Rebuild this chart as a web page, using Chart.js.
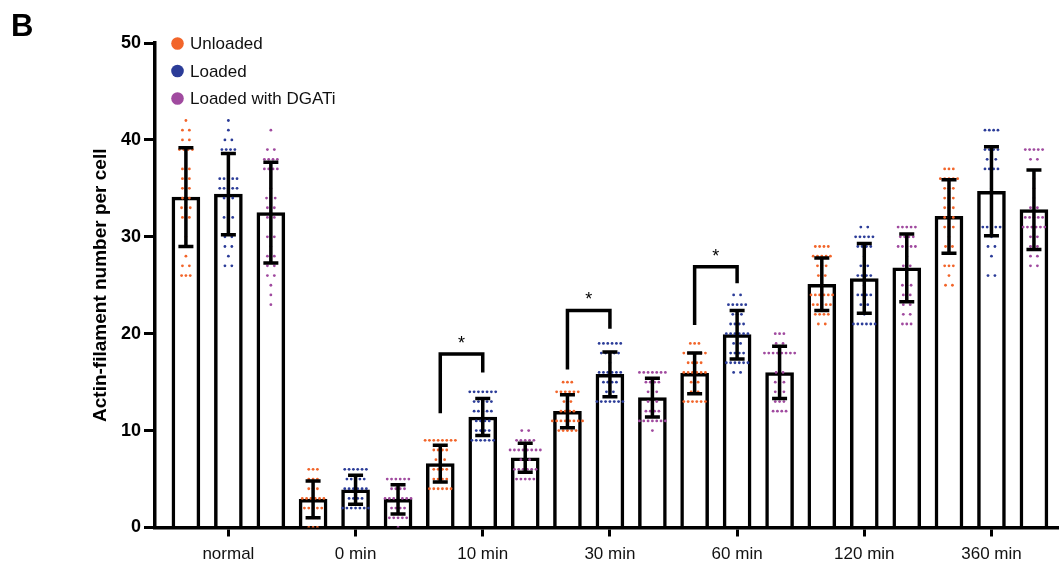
<!DOCTYPE html>
<html lang="en">
<head>
<meta charset="UTF-8">
<title>Actin-filament number per cell</title>
<script src="https://cdn.jsdelivr.net/npm/chart.js"></script>
<style>
  body { margin: 0; background: #fff; }
  #wrap { width: 1059px; height: 568px; position: relative; }
</style>
</head>
<body>
<div id="wrap"><canvas id="chart"></canvas></div>
<script>
const categories = ['normal', '0 min', '10 min', '30 min', '60 min', '120 min', '360 min'];
const seriesNames = ['Unloaded', 'Loaded', 'Loaded with DGATi'];
const seriesColors = ['#f2652a', '#2b3c98', '#a04a9f'];

// bar heights (mean) and error bars (SD)
const meanUnloaded = [34.1, 2.9, 6.6, 12.0, 15.9, 25.1, 32.1];
const meanLoaded   = [34.4, 3.9, 11.4, 15.8, 19.9, 25.7, 34.7];
const meanDGATi    = [32.5, 2.9, 7.2, 13.4, 16.0, 26.8, 32.8];
const sdUnloaded = [5.1, 1.9, 1.9, 1.7, 2.1, 2.7, 3.8];
const sdLoaded   = [4.2, 1.5, 1.9, 2.3, 2.5, 3.6, 4.6];
const sdDGATi    = [5.2, 1.5, 1.5, 2.0, 2.7, 3.5, 4.1];

// single cells: [value, number of cells] for each time point
const cellsUnloaded = [
  [[42,1],[41,2],[40,2],[39,4],[37,2],[36,2],[35,2],[34,2],[33,3],[32,2],[30,1],[28,1],[27,2],[26,3]],
  [[6,3],[5,3],[4,3],[3,6],[2,5],[1,3],[0,3]],
  [[9,8],[8,4],[7,3],[6,4],[5,4],[4,6]],
  [[15,3],[14,6],[13,2],[12,4],[11,8],[10,5]],
  [[19,3],[18,6],[17,4],[16,6],[15,2],[14,2],[13,6]],
  [[29,4],[28,5],[27,3],[26,2],[25,1],[24,6],[23,5],[22,4],[21,2]],
  [[37,3],[36,5],[35,3],[34,3],[33,3],[32,3],[31,3],[30,1],[29,2],[27,3],[26,1],[25,2]]
];
const cellsLoaded = [
  [[42,1],[41,1],[40,2],[39,4],[36,5],[35,5],[34,3],[33,1],[32,3],[30,2],[29,2],[28,1],[27,2]],
  [[6,6],[5,5],[4,6],[3,4],[2,7]],
  [[14,7],[13,5],[12,5],[11,4],[10,4],[9,6]],
  [[19,6],[18,5],[17,1],[16,6],[15,4],[14,2],[13,7]],
  [[24,2],[23,5],[22,3],[21,4],[20,6],[19,2],[18,4],[17,6],[16,2]],
  [[31,2],[30,5],[29,4],[28,1],[27,2],[26,4],[25,1],[24,4],[23,2],[22,1],[21,6]],
  [[41,4],[39,4],[38,3],[37,4],[35,1],[34,1],[33,1],[32,1],[31,5],[30,1],[29,2],[28,1],[26,2]]
];
const cellsDGATi = [
  [[41,1],[39,2],[38,4],[37,4],[35,1],[34,3],[33,2],[32,2],[30,2],[29,1],[28,2],[27,2],[26,2],[25,1],[24,1],[23,1]],
  [[5,6],[4,4],[3,7],[2,4],[1,5],[0,1]],
  [[10,2],[9,5],[8,8],[7,3],[6,6],[5,5]],
  [[16,7],[15,4],[14,3],[13,3],[12,4],[11,7],[10,1]],
  [[20,3],[19,2],[18,8],[17,1],[16,2],[15,3],[14,3],[13,3],[12,4]],
  [[31,5],[30,4],[29,5],[28,1],[27,2],[25,3],[24,2],[23,2],[22,2],[21,3]],
  [[39,5],[38,2],[36,1],[35,1],[34,1],[33,2],[32,5],[31,6],[30,2],[29,2],[28,2],[27,2]]
];

// * brackets, Unloaded vs Loaded: time point, bracket top, left leg end, right leg end
const sigGroups = [2, 3, 4];
const sigTop    = [17.9, 22.4, 26.9];
const sigLeft   = [11.8, 16.3, 20.9];
const sigRight  = [16.0, 20.5, 25.2];

const means = [meanUnloaded, meanLoaded, meanDGATi];
const sds = [sdUnloaded, sdLoaded, sdDGATi];
const cells = [cellsUnloaded, cellsLoaded, cellsDGATi];
const barShift = [-0.334, 0, 0.334];   // bars inside a time point
const dotStep = 0.034;                 // horizontal gap between cells in one row
const FONT = '"Liberation Sans", Arial, Helvetica, sans-serif';

const datasets = [];
means.forEach((m, s) => {
  datasets.push({
    type: 'bar',
    label: seriesNames[s],
    data: m.map((v, i) => ({ x: i + barShift[s], y: v })),
    backgroundColor: '#fff',
    borderColor: '#000',
    borderWidth: 3.5,
    borderSkipped: 'start',
    barThickness: 28,
    grouped: false,
    order: 3
  });
});
cells.forEach((list, s) => {
  const pts = [];
  list.forEach((rows, i) => {
    rows.forEach(([v, n]) => {
      // small rows are spread a bit wider, like the original layout
      const step = n <= 2 ? dotStep * 1.6 : dotStep;
      for (let k = 0; k < n; k++) {
        pts.push({ x: i + barShift[s] + (k - (n - 1) / 2) * step, y: v });
      }
    });
  });
  datasets.push({
    type: 'scatter',
    label: seriesNames[s] + ' cells',
    data: pts,
    backgroundColor: seriesColors[s],
    pointRadius: 1.4,
    pointHoverRadius: 1.4,
    pointBorderWidth: 0,
    order: 2
  });
});

// error bars, * brackets, legend and panel letter
const extras = {
  id: 'extras',
  afterDatasetsDraw(chart) {
    const ctx = chart.ctx;
    const y = chart.scales.y;
    ctx.save();
    ctx.strokeStyle = '#000';
    ctx.lineWidth = 3.5;
    ctx.lineCap = 'butt';
    for (let s = 0; s < 3; s++) {
      const meta = chart.getDatasetMeta(s);
      meta.data.forEach((bar, i) => {
        const top = y.getPixelForValue(means[s][i] + sds[s][i]);
        const bot = y.getPixelForValue(means[s][i] - sds[s][i]);
        ctx.beginPath();
        ctx.moveTo(bar.x, top); ctx.lineTo(bar.x, bot);
        ctx.moveTo(bar.x - 7.5, top); ctx.lineTo(bar.x + 7.5, top);
        ctx.moveTo(bar.x - 7.5, bot); ctx.lineTo(bar.x + 7.5, bot);
        ctx.stroke();
      });
    }
    const m0 = chart.getDatasetMeta(0), m1 = chart.getDatasetMeta(1);
    sigGroups.forEach((g, j) => {
      const x1 = m0.data[g].x, x2 = m1.data[g].x;
      const yt = y.getPixelForValue(sigTop[j]);
      ctx.beginPath();
      ctx.moveTo(x1, y.getPixelForValue(sigLeft[j]));
      ctx.lineTo(x1, yt);
      ctx.lineTo(x2, yt);
      ctx.lineTo(x2, y.getPixelForValue(sigRight[j]));
      ctx.lineJoin = 'miter';
      ctx.stroke();
      ctx.fillStyle = '#000';
      ctx.font = '18px ' + FONT;
      ctx.textAlign = 'center';
      ctx.textBaseline = 'middle';
      ctx.fillText('*', (x1 + x2) / 2, yt - 10);
    });
    // legend
    ctx.textAlign = 'left';
    ctx.textBaseline = 'middle';
    ctx.font = '17px ' + FONT;
    seriesNames.forEach((name, s) => {
      const ly = 43.5 + s * 27.5;
      ctx.fillStyle = seriesColors[s];
      ctx.beginPath();
      ctx.arc(177.5, ly, 6.3, 0, Math.PI * 2);
      ctx.fill();
      ctx.fillStyle = '#111';
      ctx.fillText(name, 190, ly + 1);
    });
    // panel letter
    ctx.fillStyle = '#000';
    ctx.font = 'bold 31px ' + FONT;
    ctx.textBaseline = 'alphabetic';
    ctx.fillText('B', 11, 36);
    ctx.restore();
  }
};

new Chart(document.getElementById('chart'), {
  type: 'bar',
  data: { datasets: datasets },
  options: {
    responsive: true,
    maintainAspectRatio: false,
    animation: false,
    layout: { padding: { top: 43, right: 0, bottom: 0, left: 0 } },
    plugins: { legend: { display: false }, tooltip: { enabled: false } },
    scales: {
      x: {
        type: 'linear',
        min: -0.577,
        max: 6.52,
        offset: false,
        afterBuildTicks: (scale) => { scale.ticks = categories.map((c, i) => ({ value: i })); },
        afterFit: (scale) => { scale.height = 40.5; },
        border: { display: true, color: '#000', width: 3.5 },
        grid: { display: true, drawOnChartArea: false, drawTicks: true, tickLength: 9, color: '#000', lineWidth: 3, offset: false },
        ticks: {
          autoSkip: false,
          maxRotation: 0,
          padding: 8,
          color: '#111',
          font: { family: FONT, size: 17 },
          callback: (v) => categories[v]
        }
      },
      y: {
        min: 0,
        max: 50,
        afterFit: (scale) => { scale.width = 155; },
        border: { display: true, color: '#000', width: 3.5 },
        grid: { display: true, drawOnChartArea: false, drawTicks: true, tickLength: 11, color: '#000', lineWidth: 3 },
        ticks: {
          stepSize: 10,
          padding: 3,
          color: '#000',
          font: { family: FONT, size: 18, weight: 'bold' }
        },
        title: {
          display: true,
          text: 'Actin-filament number per cell',
          color: '#000',
          font: { family: FONT, size: 19, weight: 'bold' },
          padding: { top: 89, bottom: 0 }
        }
      }
    }
  },
  plugins: [extras]
});
</script>
</body>
</html>
